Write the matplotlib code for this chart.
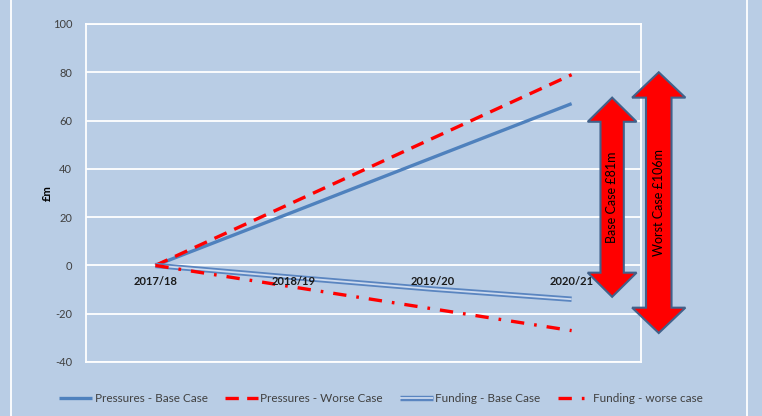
import matplotlib.pyplot as plt
import matplotlib.patheffects as pe
from matplotlib.patches import Polygon
from matplotlib.lines import Line2D
import matplotlib.transforms as mtransforms

plt.rcParams["font.family"] = ["Lato", "DejaVu Sans"]

# Data
years = ["2017/18", "2018/19", "2019/20", "2020/21"]
pressures_base = [0, 22.3, 44.7, 67]
pressures_worse = [0, 26.3, 52.7, 79]
funding_base = [0, -5, -9.8, -14]
funding_worse = [0, -9, -18, -27]
y_ticks = [-40, -20, 0, 20, 40, 60, 80, 100]

bg = "#B9CDE5"
blue = "#4F81BD"
red = "#FF0000"
text_col = "#404040"

fig = plt.figure(figsize=(7.62, 4.16), dpi=100, facecolor=bg)
ax = fig.add_axes([86 / 762, 1 - 362 / 416, 555 / 762, 338 / 416])
ax.set_facecolor(bg)

x = list(range(len(years)))

ax.plot(x, pressures_base, color=blue, lw=2.4, label="Pressures - Base Case",
        solid_capstyle="butt", zorder=3)
ax.plot(x, pressures_worse, color=red, lw=2.4, dashes=(4, 2.5),
        label="Pressures - Worse Case", zorder=3)
ax.plot(x, funding_base, color="#CCDAEF", lw=1.3, label="Funding - Base Case",
        solid_capstyle="butt", zorder=3,
        path_effects=[pe.Stroke(linewidth=3.9, foreground="#5A85C0"), pe.Normal()])
ax.plot(x, funding_worse, color=red, lw=2.4, dashes=(4, 3, 0.8, 3),
        label="Funding - worse case", zorder=3)

ax.set_xlim(-0.5, len(years) - 0.5)
ax.set_ylim(-40, 100)
ax.set_yticks(y_ticks)
ax.set_yticklabels([str(v) for v in y_ticks], fontsize=8, color=text_col)
ax.set_xticks([])
ax.tick_params(axis="y", length=0, pad=10)
ax.grid(axis="y", color="white", lw=1.3)
ax.set_axisbelow(True)
for s in ax.spines.values():
    s.set_color("white")
    s.set_linewidth(1.3)

# category labels sit just under the zero line
for i, yr in enumerate(years):
    ax.text(i, -4.2, yr, ha="center", va="top", fontsize=8, fontweight="bold",
            color="#1a1a1a")

ax.set_ylabel("£m", fontsize=8, fontweight="bold", labelpad=0)

# double-headed arrows spanning the gap between pressures and funding
trans = mtransforms.blended_transform_factory(ax.transAxes, ax.transData)


def gap_arrow(xc, lo, hi, head_w, shaft_w, head_len, label):
    pts = [
        (xc, hi),
        (xc + head_w, hi - head_len),
        (xc + shaft_w, hi - head_len),
        (xc + shaft_w, lo + head_len),
        (xc + head_w, lo + head_len),
        (xc, lo),
        (xc - head_w, lo + head_len),
        (xc - shaft_w, lo + head_len),
        (xc - shaft_w, hi - head_len),
        (xc - head_w, hi - head_len),
    ]
    ax.add_patch(Polygon(pts, closed=True, facecolor=red, edgecolor="#41618A",
                         lw=1.5, transform=trans, clip_on=False, zorder=5))
    ax.text(xc, (lo + hi) / 2, label, rotation=90, ha="center", va="center",
            fontsize=9, transform=trans, zorder=6, color="black")


base_gap = pressures_base[-1] - funding_base[-1]
worst_gap = pressures_worse[-1] - funding_worse[-1]
gap_arrow(0.948, funding_base[-1] + 1, pressures_base[-1] + 2.5,
          0.044, 0.021, 10, f"Base Case £{base_gap:.0f}m")
gap_arrow(1.032, funding_worse[-1] - 1, pressures_worse[-1] + 1,
          0.048, 0.023, 10.5, f"Worst Case £{worst_gap:.0f}m")

# frame lines of the surrounding chart area
for xf in (11 / 762, 747 / 762):
    fig.add_artist(Line2D([xf, xf], [0, 1], color="white", lw=1.3,
                          transform=fig.transFigure))

leg = fig.legend(loc="center", bbox_to_anchor=(0.5, 1 - 399 / 416), ncol=4,
                 frameon=False, fontsize=8.5, handlelength=2.8,
                 columnspacing=1.45, handletextpad=0.2)
for t in leg.get_texts():
    t.set_color(text_col)

fig.savefig("out.png", dpi=100, facecolor=bg)
